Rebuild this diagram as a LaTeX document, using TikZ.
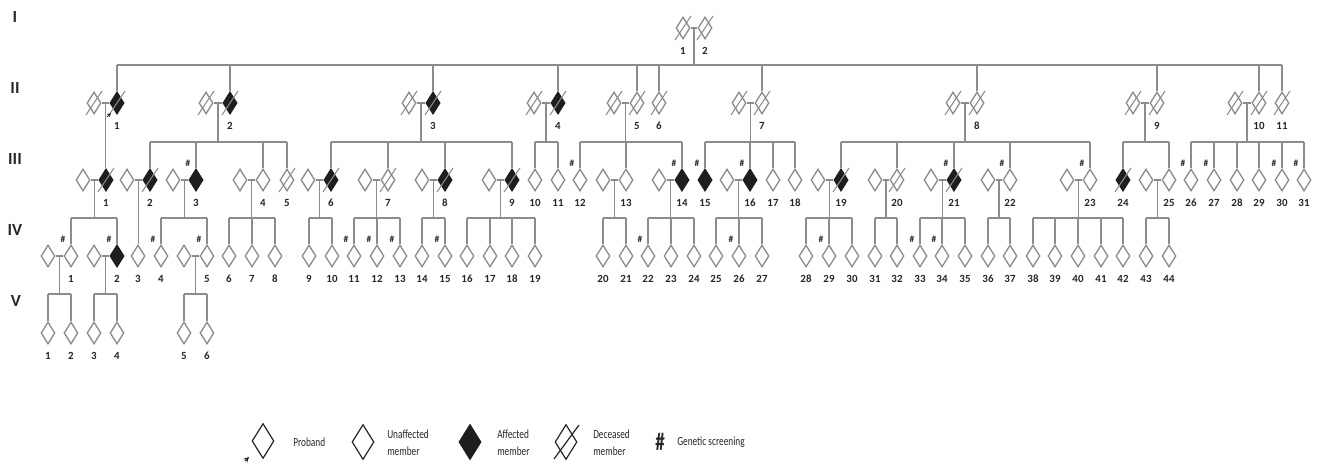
\documentclass[tikz,border=0pt]{standalone}
\usepackage{fontspec}
\setmainfont{Carlito}
\newfontfamily\legfont[FakeStretch=0.75]{Carlito}
\usetikzlibrary{shapes.geometric,calc,arrows.meta}
\pgfdeclarelayer{bg}
\pgfsetlayers{bg,main}
\definecolor{lg}{HTML}{8C8C8C}
\definecolor{afc}{HTML}{1E1E1E}
\tikzset{
  ln/.style={draw=lg, line width=1.4pt},
  dia/.style={shape=diamond, draw=lg, line width=1pt, fill=white, inner sep=0pt,
              minimum width=10.5pt, minimum height=16.5pt},
  un/.style={dia},
  af/.style={dia, fill=afc, draw=afc},
  lab/.style={font=\bfseries\fontsize{8.2pt}{9pt}\selectfont, inner sep=0pt, text=black!85},
  hsh/.style={font=\bfseries\fontsize{7pt}{8pt}\selectfont, inner sep=0pt, text=black!85},
  gen/.style={font=\bfseries\fontsize{12.75pt}{14pt}\selectfont, inner sep=0pt, text=black!85},
  dslash/.style={draw=lg, line width=0.8pt},
  legdia/.style={shape=diamond, draw=black!85, line width=0.9pt, fill=white, inner sep=0pt,
              minimum width=16.5pt, minimum height=26.25pt},
  legt/.style={font=\legfont\fontsize{9.3pt}{13pt}\selectfont, inner sep=0pt, align=left,
               anchor=west, text=black!85},
}
\newcommand\pn[5]{\node[#4] (#1) at (#2,#3) {};\node[lab] (l#1) at (#2,#3+23) {#5};}
\newcommand\ps[4]{\node[#4] (#1) at (#2,#3) {};}
\newcommand\mate[3]{\draw[ln] (#1) -- (#2); \coordinate (#3) at ($(#1)!0.5!(#2)$);}
\newcommand\drop[2]{\draw[ln] (#1) -- (#1 |- 0,#2);}
\newcommand\sibs[4]{\draw[ln] (#2 |- 0,#1) -- (#3 |- 0,#1);
  \foreach \c in {#4} {\draw[ln] (\c.north) -- (\c |- 0,#1);}}
\begin{document}
\begin{tikzpicture}[x=0.75pt,y=-0.75pt]
\useasboundingbox (0,0) rectangle (1326,468);
% generation labels
\node[gen] (gI) at (15,17) {I};
\node[gen] (gII) at (15,88) {II};
\node[gen] (gIII) at (15,159) {III};
\node[gen] (gIV) at (15,230) {IV};
\node[gen] (gV) at (16,301) {V};
% Generation I
\pn{I1}{683}{28}{un}{1}
\pn{I2}{705}{28}{un}{2}
% Generation II
\ps{S1}{94}{103}{un} \pn{II1}{117}{103}{af}{1}
\ps{S2}{206}{103}{un} \pn{II2}{230}{103}{af}{2}
\ps{S3}{409}{103}{un} \pn{II3}{433}{103}{af}{3}
\ps{S4}{534}{103}{un} \pn{II4}{558}{103}{af}{4}
\ps{S5}{614}{103}{un} \pn{II5}{637}{103}{un}{5}
\pn{II6}{659}{103}{un}{6}
\ps{S7}{739}{103}{un} \pn{II7}{762}{103}{un}{7}
\ps{S8}{953}{103}{un} \pn{II8}{977}{103}{un}{8}
\ps{S9}{1133}{103}{un} \pn{II9}{1157}{103}{un}{9}
\ps{S10}{1235}{103}{un} \pn{II10}{1259}{103}{un}{10}
\pn{II11}{1282}{103}{un}{11}
% Generation III
\ps{T1}{83}{180}{un} \pn{III1}{106}{180}{af}{1}
\ps{T2}{127}{180}{un} \pn{III2}{150}{180}{af}{2}
\ps{T3}{173}{180}{un} \pn{III3}{196}{180}{af}{3}
\ps{T4}{240}{180}{un} \pn{III4}{263}{180}{un}{4}
\pn{III5}{287}{180}{un}{5}
\ps{T6}{308}{180}{un} \pn{III6}{331}{180}{af}{6}
\ps{T7}{365}{180}{un} \pn{III7}{388}{180}{un}{7}
\ps{T8}{422}{180}{un} \pn{III8}{445}{180}{af}{8}
\ps{T9}{489}{180}{un} \pn{III9}{512}{180}{af}{9}
\pn{III10}{535}{180}{un}{10}
\pn{III11}{558}{180}{un}{11}
\pn{III12}{580}{180}{un}{12}
\ps{T13}{603}{180}{un} \pn{III13}{626}{180}{un}{13}
\ps{T14}{659}{180}{un} \pn{III14}{682}{180}{af}{14}
\pn{III15}{705}{180}{af}{15}
\ps{T16}{727}{180}{un} \pn{III16}{750}{180}{af}{16}
\pn{III17}{773}{180}{un}{17}
\pn{III18}{795}{180}{un}{18}
\ps{T19}{818}{180}{un} \pn{III19}{841}{180}{af}{19}
\ps{T20}{875}{180}{un} \pn{III20}{897}{180}{un}{20}
\ps{T21}{931}{180}{un} \pn{III21}{954}{180}{af}{21}
\ps{T22}{988}{180}{un} \pn{III22}{1010}{180}{un}{22}
\ps{T23}{1067}{180}{un} \pn{III23}{1090}{180}{un}{23}
\pn{III24}{1123}{180}{af}{24}
\ps{T25}{1146}{180}{un} \pn{III25}{1169}{180}{un}{25}
\pn{III26}{1191}{180}{un}{26}
\pn{III27}{1214}{180}{un}{27}
\pn{III28}{1237}{180}{un}{28}
\pn{III29}{1259}{180}{un}{29}
\pn{III30}{1282}{180}{un}{30}
\pn{III31}{1304}{180}{un}{31}
% Generation IV
\ps{U1}{48}{256}{un} \pn{IV1}{71}{256}{un}{1}
\ps{U2}{94}{256}{un} \pn{IV2}{117}{256}{af}{2}
\pn{IV3}{138}{256}{un}{3}
\pn{IV4}{161}{256}{un}{4}
\ps{U5}{184}{256}{un} \pn{IV5}{207}{256}{un}{5}
\pn{IV6}{229}{256}{un}{6}
\pn{IV7}{252}{256}{un}{7}
\pn{IV8}{275}{256}{un}{8}
\pn{IV9}{309}{256}{un}{9}
\pn{IV10}{332}{256}{un}{10}
\pn{IV11}{354}{256}{un}{11}
\pn{IV12}{377}{256}{un}{12}
\pn{IV13}{400}{256}{un}{13}
\pn{IV14}{422}{256}{un}{14}
\pn{IV15}{445}{256}{un}{15}
\pn{IV16}{467}{256}{un}{16}
\pn{IV17}{490}{256}{un}{17}
\pn{IV18}{512}{256}{un}{18}
\pn{IV19}{535}{256}{un}{19}
\pn{IV20}{603}{256}{un}{20}
\pn{IV21}{626}{256}{un}{21}
\pn{IV22}{648}{256}{un}{22}
\pn{IV23}{671}{256}{un}{23}
\pn{IV24}{694}{256}{un}{24}
\pn{IV25}{716}{256}{un}{25}
\pn{IV26}{739}{256}{un}{26}
\pn{IV27}{762}{256}{un}{27}
\pn{IV28}{806}{256}{un}{28}
\pn{IV29}{829}{256}{un}{29}
\pn{IV30}{852}{256}{un}{30}
\pn{IV31}{875}{256}{un}{31}
\pn{IV32}{897}{256}{un}{32}
\pn{IV33}{920}{256}{un}{33}
\pn{IV34}{942}{256}{un}{34}
\pn{IV35}{965}{256}{un}{35}
\pn{IV36}{988}{256}{un}{36}
\pn{IV37}{1010}{256}{un}{37}
\pn{IV38}{1033}{256}{un}{38}
\pn{IV39}{1055}{256}{un}{39}
\pn{IV40}{1078}{256}{un}{40}
\pn{IV41}{1101}{256}{un}{41}
\pn{IV42}{1123}{256}{un}{42}
\pn{IV43}{1146}{256}{un}{43}
\pn{IV44}{1169}{256}{un}{44}
% Generation V
\pn{V1}{48}{333}{un}{1}
\pn{V2}{71}{333}{un}{2}
\pn{V3}{94}{333}{un}{3}
\pn{V4}{117}{333}{un}{4}
\pn{V5}{184}{333}{un}{5}
\pn{V6}{207}{333}{un}{6}
% connectors
\begin{pgfonlayer}{bg}
\mate{I1}{I2}{mI} \drop{mI}{65}
\sibs{65}{II1}{II11}{II1,II2,II3,II4,II5,II6,II7,II8,II9,II10,II11}
\mate{S1}{II1}{m1} \draw[ln] (m1) -- (m1 |- III1.north);
\mate{S2}{II2}{m2} \drop{m2}{142} \sibs{142}{III2}{III5}{III2,III3,III4,III5}
\mate{S3}{II3}{m3} \drop{m3}{142} \sibs{142}{III6}{III9}{III6,III7,III8,III9}
\mate{S4}{II4}{m4} \drop{m4}{142} \sibs{142}{III10}{III11}{III10,III11}
\mate{S5}{II5}{m5} \drop{m5}{142} \sibs{142}{III12}{III14}{III12,III13,III14}
\mate{S7}{II7}{m7} \drop{m7}{142} \sibs{142}{III15}{III18}{III15,III16,III17,III18}
\mate{S8}{II8}{m8} \drop{m8}{142} \sibs{142}{III19}{III23}{III19,III20,III21,III22,III23}
\mate{S9}{II9}{m9} \drop{m9}{142} \sibs{142}{III24}{III25}{III24,III25}
\mate{S10}{II10}{m10} \drop{m10}{142} \sibs{142}{III26}{III31}{III26,III27,III28,III29,III30,III31}
\mate{T1}{III1}{n1} \drop{n1}{218} \sibs{218}{IV1}{IV2}{IV1,IV2}
\mate{T2}{III2}{n2} \draw[ln] (n2) -- (n2 |- IV3.north);
\mate{T3}{III3}{n3} \drop{n3}{218} \sibs{218}{IV4}{IV5}{IV4,IV5}
\mate{T4}{III4}{n4} \drop{n4}{218} \sibs{218}{IV6}{IV8}{IV6,IV7,IV8}
\mate{T6}{III6}{n6} \drop{n6}{218} \sibs{218}{IV9}{IV10}{IV9,IV10}
\mate{T7}{III7}{n7} \drop{n7}{218} \sibs{218}{IV11}{IV13}{IV11,IV12,IV13}
\mate{T8}{III8}{n8} \drop{n8}{218} \sibs{218}{IV14}{IV15}{IV14,IV15}
\mate{T9}{III9}{n9} \drop{n9}{218} \sibs{218}{IV16}{IV19}{IV16,IV17,IV18,IV19}
\mate{T13}{III13}{n13} \drop{n13}{218} \sibs{218}{IV20}{IV21}{IV20,IV21}
\mate{T14}{III14}{n14} \drop{n14}{218} \sibs{218}{IV22}{IV24}{IV22,IV23,IV24}
\mate{T16}{III16}{n16} \drop{n16}{218} \sibs{218}{IV25}{IV27}{IV25,IV26,IV27}
\mate{T19}{III19}{n19} \drop{n19}{218} \sibs{218}{IV28}{IV30}{IV28,IV29,IV30}
\mate{T20}{III20}{n20} \drop{n20}{218} \sibs{218}{IV31}{IV32}{IV31,IV32}
\mate{T21}{III21}{n21} \drop{n21}{218} \sibs{218}{IV33}{IV35}{IV33,IV34,IV35}
\mate{T22}{III22}{n22} \drop{n22}{218} \sibs{218}{IV36}{IV37}{IV36,IV37}
\mate{T23}{III23}{n23} \drop{n23}{218} \sibs{218}{IV38}{IV42}{IV38,IV39,IV40,IV41,IV42}
\mate{T25}{III25}{n25} \drop{n25}{218} \sibs{218}{IV43}{IV44}{IV43,IV44}
\mate{U1}{IV1}{o1} \drop{o1}{294} \sibs{294}{V1}{V2}{V1,V2}
\mate{U2}{IV2}{o2} \drop{o2}{294} \sibs{294}{V3}{V4}{V3,V4}
\mate{U5}{IV5}{o5} \drop{o5}{294} \sibs{294}{V5}{V6}{V5,V6}
\end{pgfonlayer}
% deceased slashes
\foreach \d in {I1,I2,S1,II1,S2,II2,S3,II3,S4,II4,S5,II5,II6,S7,II7,S8,II8,S9,II9,S10,II10,II11,
  III1,III2,III5,III6,III7,III8,III9,III19,III20,III21,III24}
  {\draw[dslash] ($(\d)+(-8,12)$) -- ($(\d)+(8,-12)$);}
% genetic screening marks
\foreach \h in {III3,III12,III14,III15,III16,III21,III22,III23,III26,III27,III30,III31,
  IV1,IV2,IV4,IV5,IV11,IV12,IV13,IV15,IV22,IV26,IV29,IV33,IV34}
  {\node[hsh] (h\h) at ($(\h)+(-8,-17)$) {\#};}
% proband arrow
\coordinate (pa) at ($(II1)+(-10,14)$);
\draw[-{Stealth[length=3pt,width=3pt]}, line width=0.6pt, black!80] (pa) -- ($(II1)+(-6,10)$);
% legend
\node[legdia] (Lp) at (263,441) {};
\coordinate (Lpa) at ($(Lp)+(-18,20)$);
\draw[-{Stealth[length=4pt,width=4pt]}, line width=0.8pt, black!85] (Lpa) -- ($(Lp)+(-14,16)$);
\node[legt] (Lpt) at (293,442) {Proband};
\node[legdia] (Lu) at (363,442) {};
\node[legt] (Lut) at (387,443) {Unaffected\\member};
\node[legdia, fill=afc, draw=afc] (La) at (470,442) {};
\node[legt] (Lat) at (497,443) {Affected\\member};
\node[legdia] (Ld) at (566,442) {};
\draw[black!85, line width=0.9pt] ($(Ld)+(-12,17)$) -- ($(Ld)+(13,-17)$);
\node[legt] (Ldt) at (593,443) {Deceased\\member};
\node[font=\legfont\bfseries\fontsize{19pt}{20pt}\selectfont, inner sep=0pt, text=black!85] (Lh) at (660,442) {\#};
\node[legt] (Lht) at (677,442) {Genetic screening};
\end{tikzpicture}
\end{document}
